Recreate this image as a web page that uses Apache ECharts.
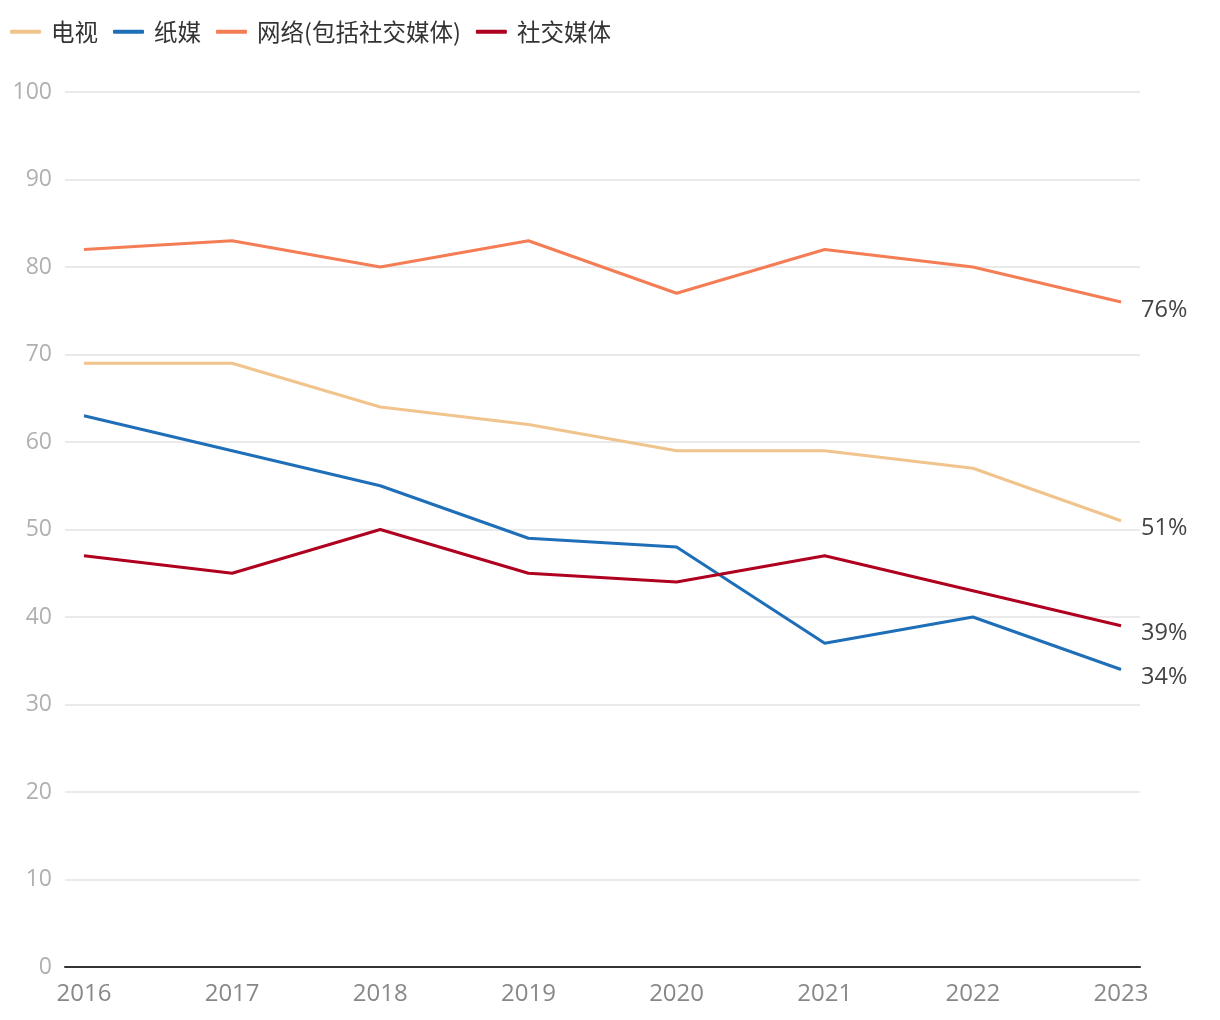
<!DOCTYPE html>
<html>
<head>
<meta charset="utf-8">
<script src="https://cdn.jsdelivr.net/npm/echarts@6/dist/echarts.min.js"></script>
<style>
  html, body { margin: 0; padding: 0; background: #fff; }
  #chart { width: 1220px; height: 1020px; }
</style>
</head>
<body>
<div id="chart"></div>
<script>
// 年份与各渠道数据(%)
const years = [2016, 2017, 2018, 2019, 2020, 2021, 2022, 2023]
const tv = [69, 69, 64, 62, 59, 59, 57, 51]
const print = [63, 59, 55, 49, 48, 37, 40, 34]
const online = [82, 83, 80, 83, 77, 82, 80, 76]
const social = [47, 45, 50, 45, 44, 47, 43, 39]
const seriesNames = ['电视', '纸媒', '网络(包括社交媒体)', '社交媒体']
const colors = ['#f0c48c', '#1f6fb8', '#f47d55', '#b00020']

const cjkFont = '"Noto Sans CJK SC", "Noto Sans", sans-serif'
const numFont = '"Open Sans", "Noto Sans", sans-serif'

const pairs = arr => arr.map((v, i) => [years[i], v])

const makeSeries = (name, arr, color) => ({
  name: name,
  type: 'line',
  data: pairs(arr),
  symbol: 'none',
  lineStyle: { width: 3, color: color },
  itemStyle: { color: color },
  endLabel: {
    show: true,
    formatter: p => p.value[1] + '%',
    color: '#444',
    fontSize: 23.5,
    fontFamily: numFont,
    distance: 20,
    offset: [0, 8]
  }
})

const chart = echarts.init(document.getElementById('chart'))
chart.setOption({
  animation: false,
  color: colors,
  legend: {
    left: 5,
    top: 15,
    icon: 'roundRect',
    itemWidth: 31,
    itemHeight: 4,
    itemGap: 15,
    textStyle: { fontSize: 23.5, color: '#333', fontFamily: cjkFont, padding: [0, 0, 0, 5] },
    data: seriesNames
  },
  grid: { left: 65, right: 80, top: 92, bottom: 53, containLabel: false },
  xAxis: {
    type: 'value',
    min: 2015.872,
    max: 2023.128,
    splitLine: { show: false },
    axisTick: { show: false },
    axisLine: { show: true, lineStyle: { color: '#333', width: 2 } },
    axisLabel: {
      customValues: years,
      color: '#888',
      fontSize: 24,
      fontFamily: numFont,
      margin: 15,
      formatter: v => String(v)
    }
  },
  yAxis: {
    type: 'value',
    min: 0,
    max: 100,
    interval: 10,
    axisLine: { show: false },
    axisTick: { show: false },
    splitLine: { lineStyle: { color: '#e3e3e3', width: 1.5 } },
    axisLabel: { color: '#b0b0b0', fontSize: 23, fontFamily: numFont, margin: 13 }
  },
  series: [
    makeSeries(seriesNames[0], tv, colors[0]),
    makeSeries(seriesNames[1], print, colors[1]),
    makeSeries(seriesNames[2], online, colors[2]),
    makeSeries(seriesNames[3], social, colors[3])
  ]
})
</script>
</body>
</html>
